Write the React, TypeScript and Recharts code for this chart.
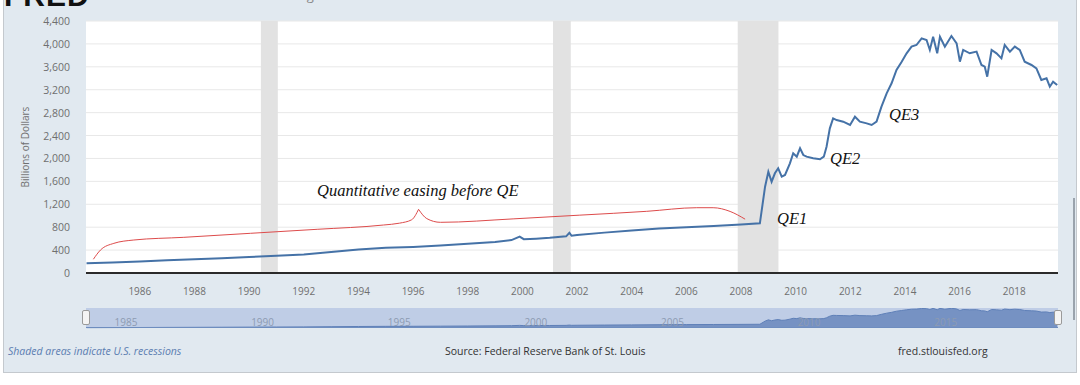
import {
  ComposedChart,
  AreaChart,
  Area,
  Line,
  XAxis,
  YAxis,
  CartesianGrid,
  ReferenceArea,
  ReferenceLine,
} from 'recharts'

const FONT = '"Open Sans", "Liberation Sans", sans-serif'
const SERIF = '"Liberation Serif", "DejaVu Serif", serif'
const BG = '#e1e9f0'
const LINE = '#4572a7'

// --- data (billions of dollars) ---
const dates = [
  1984.05, 1985.0, 1986.0, 1987.0, 1988.0, 1989.0, 1990.0, 1991.0, 1992.0, 1993.0,
  1994.0, 1995.0, 1996.0, 1997.0, 1998.0, 1999.0, 1999.6, 1999.9, 2000.05, 2000.5,
  2001.0, 2001.6, 2001.72, 2001.8, 2002.0, 2003.0, 2004.0, 2005.0, 2006.0, 2007.0,
  2008.0, 2008.69, 2008.88, 2009.0, 2009.12, 2009.24, 2009.36, 2009.49, 2009.61, 2009.79,
  2009.91, 2010.04, 2010.16, 2010.28, 2010.4, 2010.64, 2010.89, 2011.03, 2011.13, 2011.25,
  2011.37, 2011.5, 2011.74, 2011.99, 2012.17, 2012.35, 2012.6, 2012.78, 2012.96, 2013.14,
  2013.33, 2013.51, 2013.69, 2013.88, 2014.06, 2014.24, 2014.42, 2014.61, 2014.79, 2014.91,
  2015.03, 2015.18, 2015.28, 2015.46, 2015.7, 2015.89, 2016.01, 2016.13, 2016.37, 2016.62,
  2016.8, 2016.92, 2017.01, 2017.17, 2017.35, 2017.53, 2017.65, 2017.84, 2018.02, 2018.2,
  2018.38, 2018.63, 2018.81, 2018.99, 2019.18, 2019.3, 2019.42, 2019.57,
]
const securities = [
  170, 185, 200, 222, 240, 258, 280, 300, 325, 365,
  410, 440, 455, 480, 510, 540, 575, 635, 590, 600,
  615, 640, 700, 650, 665, 705, 740, 775, 800, 820,
  845, 867, 1507, 1769, 1594, 1741, 1828, 1682, 1711, 1915,
  2090, 2031, 2177, 2060, 2031, 2002, 1985, 2031, 2206, 2526,
  2700, 2670, 2642, 2584, 2729, 2642, 2613, 2584, 2642, 2904,
  3137, 3312, 3545, 3690, 3836, 3952, 3981, 4097, 4068, 3894,
  4126, 3836, 4126, 3952, 4138, 4010, 3690, 3894, 3836, 3865,
  3632, 3603, 3428, 3894, 3836, 3748, 3981, 3865, 3952, 3894,
  3690, 3632, 3574, 3370, 3399, 3253, 3341, 3282,
]

// hand-drawn red brace, split at its point
const braceLeftDates = [1984.3, 1984.56, 1985.05, 1985.78, 1987.61, 1990.05, 1992.49, 1994.92, 1995.5, 1995.95, 1996.2]
const braceLeftValues = [240, 401, 518, 576, 623, 693, 763, 838, 870, 930, 1112]
const braceRightDates = [1996.2, 1996.5, 1997.0, 1999.66, 2002.1, 2004.55, 2006.38, 2006.98, 2007.6, 2008.15]
const braceRightValues = [1112, 950, 885, 945, 1010, 1077, 1140, 1140, 1075, 940]

const recessions = [
  [1990.43, 1991.05],
  [2001.12, 2001.77],
  [2007.88, 2009.37],
]

const yearTicks = [1986, 1988, 1990, 1992, 1994, 1996, 1998, 2000, 2002, 2004, 2006, 2008, 2010, 2012, 2014, 2016, 2018]
const valueTicks = [0, 400, 800, 1200, 1600, 2000, 2400, 2800, 3200, 3600, 4000, 4400]
const navLabels = [1985, 1990, 1995, 2000, 2005, 2010, 2015]

const DOMAIN: [number, number] = [1984.03, 2019.6]

const series = dates.map((t, i) => ({ t, v: securities[i] }))
const braceLeft = braceLeftDates.map((t, i) => ({ t, v: braceLeftValues[i] }))
const braceRight = braceRightDates.map((t, i) => ({ t, v: braceRightValues[i] }))

function YearTick({ x, y, payload }: any) {
  return (
    <text x={x} y={y + 14} textAnchor="middle" fill="#6f6f6f" fontSize={10} fontFamily={FONT}>
      {payload.value}
    </text>
  )
}

function ValueTick({ x, y, payload }: any) {
  return (
    <text x={x - 8} y={y + 4} textAnchor="end" fill="#6f6f6f" fontSize={10.5} fontFamily={FONT}>
      {payload.value.toLocaleString('en-US')}
    </text>
  )
}

// navigator labels sit inside the strip, just right of their year
function NavTick({ x, y, payload }: any) {
  return (
    <text x={x + 2} y={y - 10} textAnchor="start" fill="#8d9bb2" fontSize={10} fontFamily={FONT}>
      {payload.value}
    </text>
  )
}

const note = (left: number, top: number, text: string, size = 16.5) => (
  <div
    style={{
      position: 'absolute', left, top, fontFamily: SERIF, fontStyle: 'italic',
      fontSize: size, lineHeight: '18px', color: '#111', whiteSpace: 'nowrap',
    }}
  >
    {text}
  </div>
)

export default function App() {
  return (
    <div style={{ position: 'fixed', left: 0, top: 0, width: 1080, height: 385, background: '#fff', overflow: 'hidden' }}>
      {/* frame */}
      <div style={{ position: 'absolute', left: 3, top: -1, width: 1072, height: 372, background: BG, border: '1px solid #c4c9ce' }} />
      {/* header, cut off at the top like the source */}
      <div style={{ position: 'absolute', left: 0, top: 0, width: 400, height: 7, overflow: 'hidden' }}>
        <div style={{ position: 'absolute', left: 4, top: -19, fontFamily: '"Liberation Sans", sans-serif', fontWeight: 900, fontSize: 30, lineHeight: '30px', color: '#111', letterSpacing: 1 }}>
          FRED
        </div>
        <div style={{ position: 'absolute', left: 120, top: -11, fontFamily: FONT, fontSize: 13, lineHeight: '13px', color: '#888' }}>
          — Assets: Securities Held Outright
        </div>
      </div>
      {/* scrollbar remnant */}
      <div style={{ position: 'absolute', left: 1073, top: 198, width: 2, height: 122, background: '#9aa3ad' }} />

      <div style={{ position: 'absolute', left: 0, top: 0 }}>
        <ComposedChart width={1080} height={300} margin={{ top: 21, right: 22, bottom: 7, left: 6 }}>
          <CartesianGrid vertical={false} stroke="#e8e8e8" fill="#ffffff" />
          <XAxis
            dataKey="t"
            type="number"
            domain={DOMAIN}
            allowDataOverflow
            ticks={yearTicks}
            tick={<YearTick />}
            axisLine={false}
            tickLine={false}
            height={20}
          />
          <YAxis
            type="number"
            domain={[0, 4400]}
            ticks={valueTicks}
            tick={<ValueTick />}
            axisLine={false}
            tickLine={false}
            width={80}
            interval={0}
          />
          {recessions.map(([a, b], i) => (
            <ReferenceArea key={i} x1={a} x2={b} y1={0} y2={4400} fill="#e2e2e2" fillOpacity={1} stroke="none" ifOverflow="hidden" />
          ))}
          <ReferenceLine y={0} stroke="#2b2b2b" strokeWidth={2} />
          <Line data={braceLeft} dataKey="v" type="monotone" stroke="#dd4b4b" strokeWidth={1} dot={false} isAnimationActive={false} />
          <Line data={braceRight} dataKey="v" type="monotone" stroke="#dd4b4b" strokeWidth={1} dot={false} isAnimationActive={false} />
          <Line data={series} dataKey="v" type="linear" stroke={LINE} strokeWidth={2} dot={false} isAnimationActive={false} />
        </ComposedChart>
      </div>

      {/* y axis title */}
      <div
        style={{
          position: 'absolute', left: 25, top: 147, transform: 'translate(-50%, -50%) rotate(-90deg)',
          fontFamily: FONT, fontSize: 10, color: '#6f6f6f', whiteSpace: 'nowrap',
        }}
      >
        Billions of Dollars
      </div>

      {note(317, 182, 'Quantitative easing before QE')}
      {note(777, 210, 'QE1')}
      {note(830, 150, 'QE2')}
      {note(889, 106, 'QE3')}

      {/* navigator */}
      <div style={{ position: 'absolute', left: 86, top: 308, width: 972, height: 20, background: '#bfcde6' }} />
      <div style={{ position: 'absolute', left: 0, top: 308 }}>
        <AreaChart width={1080} height={32} data={series} margin={{ top: 0, right: 22, bottom: 0, left: 86 }}>
          <XAxis
            dataKey="t"
            type="number"
            domain={DOMAIN}
            allowDataOverflow
            ticks={navLabels}
            tick={<NavTick />}
            axisLine={false}
            tickLine={false}
            height={12}
            interval={0}
          />
          <YAxis hide domain={[100, 4200]} />
          <Area dataKey="v" type="linear" stroke="#5f80b8" strokeWidth={1} fill="#5a7cb6" fillOpacity={0.72} isAnimationActive={false} />
        </AreaChart>
      </div>
      <div style={{ position: 'absolute', left: 86, top: 327, width: 972, height: 1, background: '#6e8dbf' }} />
      <div style={{ position: 'absolute', left: 82, top: 310, width: 6, height: 13, background: '#f4f4f4', border: '1px solid #9a9a9a', borderRadius: 2 }} />
      <div style={{ position: 'absolute', left: 1054, top: 310, width: 6, height: 13, background: '#f4f4f4', border: '1px solid #9a9a9a', borderRadius: 2 }} />

      {/* footer */}
      <div style={{ position: 'absolute', left: 8, top: 344, fontFamily: FONT, fontStyle: 'italic', fontSize: 10.5, color: '#5b7db0', whiteSpace: 'nowrap' }}>
        Shaded areas indicate U.S. recessions
      </div>
      <div style={{ position: 'absolute', left: 445, top: 344, fontFamily: FONT, fontSize: 10.5, color: '#333', whiteSpace: 'nowrap' }}>
        Source: Federal Reserve Bank of St. Louis
      </div>
      <div style={{ position: 'absolute', left: 898, top: 344, fontFamily: FONT, fontSize: 10.5, color: '#333', whiteSpace: 'nowrap' }}>
        fred.stlouisfed.org
      </div>
    </div>
  )
}
